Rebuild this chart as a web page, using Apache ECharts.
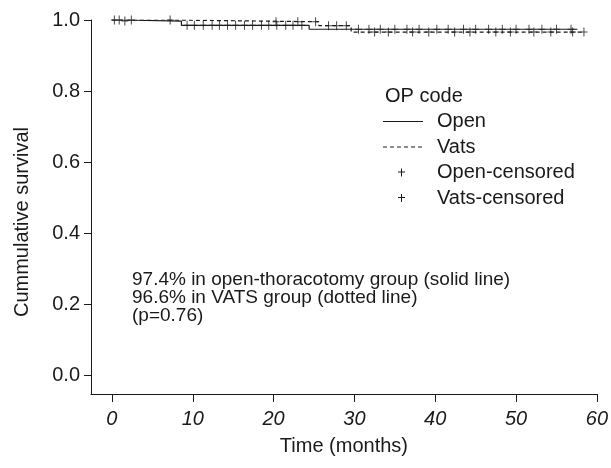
<!DOCTYPE html>
<html>
<head>
<meta charset="utf-8">
<script src="https://cdn.jsdelivr.net/npm/echarts@6/dist/echarts.min.js"></script>
<style>html,body{margin:0;padding:0;background:#fff;}#chart{width:611px;height:468px;}</style>
</head>
<body>
<div id="chart"></div>
<script>
// Kaplan-Meier step points [month, survival]
const openSteps = [[0, 1.0], [1.3, 0.997], [8.6, 0.985], [24.4, 0.974], [57.6, 0.974]];
const vatsSteps = [[0, 1.0], [7.6, 0.995], [25.6, 0.984], [29.6, 0.966], [58.2, 0.966]];
// censoring times (months)
const openCensored = [0.3, 1.6, 9.3, 10.2, 11.3, 12.4, 13.3, 14.3, 15.3, 16.4, 17.4, 18.5, 19.4, 20.4, 21.5, 22.4, 23.5,
  30.5, 31.8, 33.2, 35.0, 36.5, 38.0, 40.2, 41.6, 43.5, 45.0, 46.6, 48.3, 50.0, 51.6, 53.2, 55.0, 56.8];
const vatsCensored = [0.9, 2.4, 7.2, 20.3, 23.0, 25.2, 26.8, 27.8, 29.0, 32.5, 34.2, 37.2, 39.2, 42.4, 44.3, 47.5, 49.3, 52.2, 54.3, 57.0, 58.4];
const xTicks = [0, 10, 20, 30, 40, 50, 60];
const yTicks = [0, 0.2, 0.4, 0.6, 0.8, 1.0];
const seriesNames = ['Open', 'Vats', 'Open-censored', 'Vats-censored'];
const legendTitle = 'OP code';
const xTitle = 'Time (months)';
const yTitle = 'Cummulative survival';
const noteLines = ['97.4% in open-thoracotomy group (solid line)', '96.6% in VATS group (dotted line)', '(p=0.76)'];

function survAt(steps, t) {
  let s = steps[0][1];
  for (const p of steps) { if (p[0] <= t) s = p[1]; }
  return s;
}
const plusPath = 'path://M3,0h1v9h-1z M0,4h7v1h-7z';
const ink = '#1a1a1a';
const font = 'Liberation Sans, Arial, sans-serif';
const fs = 20;

const chart = echarts.init(document.getElementById('chart'));
const legendX = 383, legendY0 = 96, legendDy = 25.5;
const g = [
  { type: 'text', x: 385, y: legendY0, style: { text: legendTitle, font: fs + 'px ' + font, fill: ink, verticalAlign: 'middle' } },
  { type: 'text', x: 22, y: 222, rotation: Math.PI / 2,
    style: { text: yTitle, font: fs + 'px ' + font, fill: ink, align: 'center', verticalAlign: 'middle' } }
];
seriesNames.forEach((n, i) => {
  const y = legendY0 + legendDy * (i + 1);
  g.push({ type: 'text', x: 437, y: y, style: { text: n, font: fs + 'px ' + font, fill: ink, verticalAlign: 'middle' } });
  if (i < 2) {
    g.push({ type: 'line', shape: { x1: legendX, y1: y, x2: legendX + 40, y2: y },
      style: { stroke: ink, lineWidth: 1, lineDash: i === 1 ? [4, 3] : null } });
  } else {
    g.push({ type: 'rect', shape: { x: 401, y: y - 4, width: 1, height: 8 }, style: { fill: ink } });
    g.push({ type: 'rect', shape: { x: 398, y: y - 1, width: 7, height: 1 }, style: { fill: ink } });
  }
});
noteLines.forEach((t, i) => {
  g.push({ type: 'text', x: 132, y: 280 + i * 18, style: { text: t, font: '19px ' + font, fill: ink, verticalAlign: 'middle' } });
});

chart.setOption({
  animation: false,
  backgroundColor: '#fff',
  grid: { left: 91, right: 12, top: 20, bottom: 74, containLabel: false },
  xAxis: {
    type: 'value', min: -2.59, max: 60,
    name: xTitle, nameLocation: 'middle', nameGap: 42,
    nameTextStyle: { fontSize: fs, fontFamily: font, color: ink },
    axisLine: { show: true, onZero: false, lineStyle: { color: ink, width: 1 } },
    axisTick: { show: true, customValues: xTicks, length: 8, inside: false, lineStyle: { color: ink } },
    axisLabel: { customValues: xTicks, fontSize: fs, fontStyle: 'italic', fontFamily: font, color: ink, margin: 15 },
    splitLine: { show: false }
  },
  yAxis: {
    type: 'value', min: -0.0535, max: 1.0,
    axisLine: { show: true, onZero: false, lineStyle: { color: ink, width: 1 } },
    axisTick: { show: true, customValues: yTicks, length: 7, lineStyle: { color: ink } },
    axisLabel: { customValues: yTicks, fontSize: fs, fontFamily: font, color: ink, margin: 11,
      formatter: v => v.toFixed(1) },
    splitLine: { show: false }
  },
  series: [
    { name: seriesNames[0], type: 'line', step: 'end', data: openSteps, symbol: 'none',
      lineStyle: { color: ink, width: 1.2 } },
    { name: seriesNames[1], type: 'line', step: 'end', data: vatsSteps, symbol: 'none',
      lineStyle: { color: ink, width: 1.2, type: [4, 3] } },
    { name: seriesNames[2], type: 'scatter', symbol: plusPath, symbolSize: [7, 9],
      data: openCensored.map(t => [t, survAt(openSteps, t)]), itemStyle: { color: ink } },
    { name: seriesNames[3], type: 'scatter', symbol: plusPath, symbolSize: [7, 9],
      data: vatsCensored.map(t => [t, survAt(vatsSteps, t)]), itemStyle: { color: ink } }
  ],
  graphic: g
});
</script>
</body>
</html>
